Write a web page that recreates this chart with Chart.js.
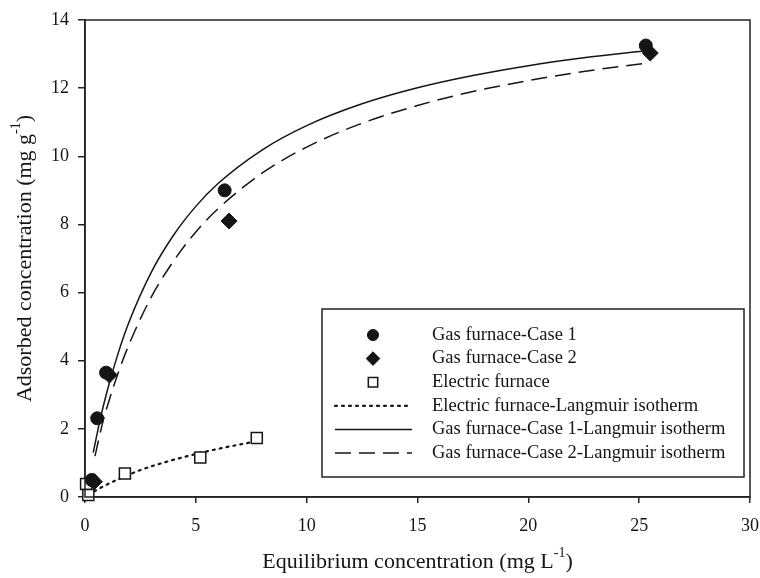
<!DOCTYPE html>
<html lang="en">
<head>
<meta charset="UTF-8" />
<title>Adsorption isotherms</title>
<script src="https://cdn.jsdelivr.net/npm/chart.js"></script>
<style>
  html, body { margin: 0; padding: 0; background: #fff; }
  #wrap { width: 760px; height: 578px; }
</style>
</head>
<body>
<div id="wrap"><canvas id="chart" width="760" height="578"></canvas></div>
<script>
  // measured points
  const case1X = [0.3, 0.55, 0.95, 6.3, 25.3];
  const case1Y = [0.5, 2.31, 3.65, 9.0, 13.25];
  const case2X = [0.42, 1.1, 6.5, 25.5];
  const case2Y = [0.45, 3.58, 8.1, 13.03];
  const elecX = [0.05, 0.15, 1.8, 5.2, 7.75];
  const elecY = [0.38, 0.06, 0.69, 1.16, 1.73];

  // fitted curves
  const elecFitX = [0.15, 0.7, 1.5, 2.5, 3.5, 4.5, 5.5, 6.5, 7.45];
  const elecFitY = [0.06, 0.27, 0.52, 0.79, 1.0, 1.18, 1.34, 1.48, 1.6];
  const case1FitX = [0.37, 0.7, 1, 1.5, 2, 3, 4, 5, 6, 8, 10, 12.5, 15, 17.5, 20, 22.5, 25.3];
  const case1FitY = [1.3, 2.32, 3.11, 4.23, 5.16, 6.61, 7.69, 8.53, 9.2, 10.19, 10.9, 11.54, 12.01, 12.37, 12.66, 12.89, 13.1];
  const case2FitX = [0.45, 0.8, 1, 1.5, 2, 3, 4, 5, 6, 8, 10, 12.5, 15, 17.5, 20, 22.5, 25.5];
  const case2FitY = [1.2, 2.19, 2.65, 3.65, 4.5, 5.88, 6.93, 7.78, 8.46, 9.51, 10.27, 10.97, 11.49, 11.9, 12.22, 12.49, 12.75];

  const seriesLabels = [
    "Gas furnace-Case 1",
    "Gas furnace-Case 2",
    "Electric furnace",
    "Electric furnace-Langmuir isotherm",
    "Gas furnace-Case 1-Langmuir isotherm",
    "Gas furnace-Case 2-Langmuir isotherm"
  ];
  const xTitle = ["Equilibrium concentration (mg L", "-1", ")"];
  const yTitle = ["Adsorbed concentration (mg g", "-1", ")"];

  const FONT = "'Liberation Serif', 'Times New Roman', serif";
  const INK = "#151515";

  const pts = (xs, ys) => xs.map((x, i) => ({ x, y: ys[i] }));

  const datasets = [
    { label: seriesLabels[0], data: pts(case1X, case1Y), pointStyle: "circle", pointRadius: 6.5,
      backgroundColor: INK, borderColor: INK, borderWidth: 1, showLine: false, clip: false },
    { label: seriesLabels[1], data: pts(case2X, case2Y), pointStyle: "rectRot", pointRadius: 8,
      backgroundColor: INK, borderColor: INK, borderWidth: 1, showLine: false, clip: false },
    { label: seriesLabels[2], data: pts(elecX, elecY), pointStyle: "rect", pointRadius: 7.8,
      backgroundColor: "#fff", borderColor: INK, borderWidth: 1.5, showLine: false, clip: false },
    { label: seriesLabels[3], data: pts(elecFitX, elecFitY), showLine: true, pointRadius: 0,
      borderColor: INK, borderWidth: 2.2, borderDash: [2, 5], borderCapStyle: "round",
      cubicInterpolationMode: "monotone" },
    { label: seriesLabels[4], data: pts(case1FitX, case1FitY), showLine: true, pointRadius: 0,
      borderColor: INK, borderWidth: 1.5, cubicInterpolationMode: "monotone" },
    { label: seriesLabels[5], data: pts(case2FitX, case2FitY), showLine: true, pointRadius: 0,
      borderColor: INK, borderWidth: 1.5, borderDash: [16, 8], cubicInterpolationMode: "monotone" }
  ];

  // draws text with a raised "-1"
  function drawSupText(ctx, parts, size) {
    ctx.font = size + "px " + FONT;
    const w0 = ctx.measureText(parts[0]).width;
    ctx.font = Math.round(size * 0.62) + "px " + FONT;
    const w1 = ctx.measureText(parts[1]).width;
    ctx.font = size + "px " + FONT;
    const w2 = ctx.measureText(parts[2]).width;
    let x = -(w0 + w1 + w2) / 2;
    ctx.textAlign = "left";
    ctx.textBaseline = "middle";
    ctx.fillText(parts[0], x, 0);
    x += w0;
    ctx.font = Math.round(size * 0.62) + "px " + FONT;
    ctx.fillText(parts[1], x, -size * 0.38);
    x += w1;
    ctx.font = size + "px " + FONT;
    ctx.fillText(parts[2], x, 0);
  }

  const decor = {
    id: "decor",
    afterDraw(chart) {
      const ctx = chart.ctx;
      const a = chart.chartArea;
      ctx.save();
      // frame
      ctx.strokeStyle = "#222";
      ctx.lineWidth = 1.5;
      ctx.strokeRect(a.left, a.top, a.right - a.left, a.bottom - a.top);

      // axis titles
      ctx.fillStyle = INK;
      ctx.save();
      ctx.translate((a.left + a.right) / 2, 562);
      drawSupText(ctx, xTitle, 22);
      ctx.restore();
      ctx.save();
      ctx.translate(25, (a.top + a.bottom) / 2);
      ctx.rotate(-Math.PI / 2);
      drawSupText(ctx, yTitle, 22);
      ctx.restore();

      // legend box
      const bx = 322, by = 309, bw = 422, bh = 168;
      ctx.lineWidth = 1.5;
      ctx.strokeStyle = "#222";
      ctx.strokeRect(bx, by, bw, bh);
      const rowY0 = 335, rowStep = 23.6, symX = 373, lineX0 = 335, lineX1 = 412, textX = 432;
      ctx.font = "18.5px " + FONT;
      ctx.textAlign = "left";
      ctx.textBaseline = "middle";
      chart.data.datasets.forEach((ds, i) => {
        const y = rowY0 + i * rowStep;
        ctx.save();
        if (ds.showLine) {
          ctx.strokeStyle = ds.borderColor;
          ctx.lineWidth = ds.borderWidth;
          ctx.lineCap = ds.borderCapStyle || "butt";
          ctx.setLineDash(ds.borderDash || []);
          ctx.beginPath();
          ctx.moveTo(lineX0, y);
          ctx.lineTo(lineX1, y);
          ctx.stroke();
        } else {
          ctx.fillStyle = ds.backgroundColor;
          ctx.strokeStyle = ds.borderColor;
          ctx.lineWidth = ds.borderWidth;
          Chart.helpers.drawPoint(ctx, { pointStyle: ds.pointStyle, radius: ds.pointRadius * 0.85, borderWidth: ds.borderWidth }, symX, y);
        }
        ctx.restore();
        ctx.fillStyle = INK;
        ctx.fillText(ds.label, textX, y);
      });
      ctx.restore();
    }
  };

  const axisCommon = {
    type: "linear",
    grid: { drawOnChartArea: false, drawTicks: true, color: "#222", lineWidth: 1.5 },
    border: { color: "#222", width: 1.5 },
    ticks: { color: INK, font: { family: FONT, size: 18 } }
  };

  new Chart(document.getElementById("chart"), {
    type: "scatter",
    data: { datasets },
    plugins: [decor],
    options: {
      responsive: false,
      animation: false,
      devicePixelRatio: 1,
      layout: { padding: { top: 20, right: 10, left: 0, bottom: 0 } },
      plugins: { legend: { display: false }, tooltip: { enabled: false } },
      scales: {
        x: {
          ...axisCommon,
          min: 0, max: 30,
          grid: { ...axisCommon.grid, tickLength: 6 },
          ticks: { ...axisCommon.ticks, stepSize: 5, padding: 12, maxRotation: 0 },
          afterFit: s => { s.height = 81; s.paddingLeft = 0; s.paddingRight = 0; }
        },
        y: {
          ...axisCommon,
          min: 0, max: 14,
          grid: { ...axisCommon.grid, tickLength: 7 },
          ticks: { ...axisCommon.ticks, stepSize: 2, padding: 9 },
          afterFit: s => { s.width = 85; s.paddingTop = 0; s.paddingBottom = 0; }
        }
      }
    }
  });
</script>
</body>
</html>
